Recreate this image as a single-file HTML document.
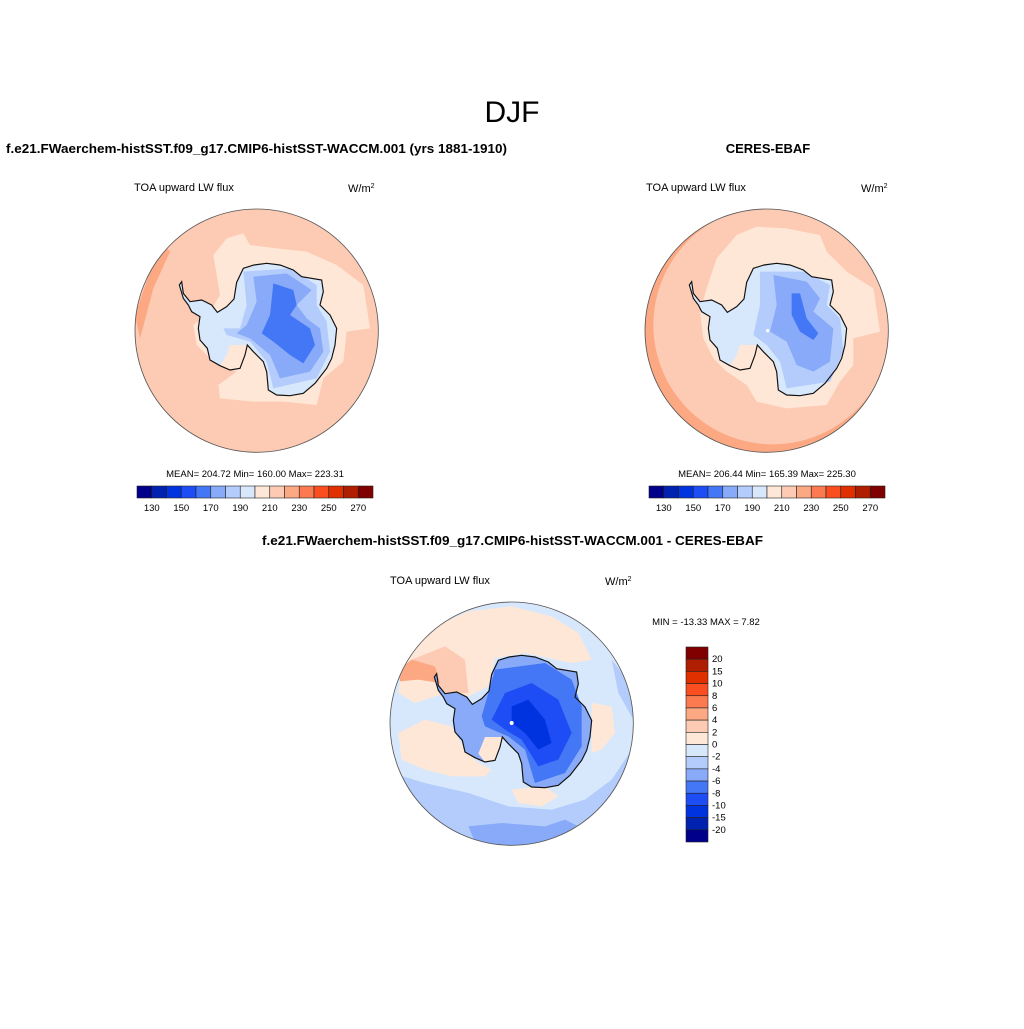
<!DOCTYPE html>
<html><head><meta charset="utf-8">
<style>
html,body{margin:0;padding:0;background:#fff;}
body{width:1024px;height:1024px;overflow:hidden;font-family:"Liberation Sans",Arial,sans-serif;}
svg text{font-family:"Liberation Sans",Arial,sans-serif;}
</style></head>
<body>
<svg id="fig" width="1024" height="1024" viewBox="0 0 1024 1024" xmlns="http://www.w3.org/2000/svg">
<defs>
<path id="coast" d="M340,190 L372,180 L410,175 L450,180 L490,195 L515,215 L575,225 L580,260 L570,300 L600,330 L620,370 L615,420 L605,460 L590,490 L555,535 L520,565 L480,572 L440,570 L415,555 L410,500 L400,470 L370,440 L352,420 L345,450 L330,490 L300,495 L270,482 L240,465 L232,430 L210,405 L205,370 L210,335 L185,320 L175,300 L160,280 L148,240 L155,230 L160,265 L180,290 L215,285 L245,300 L262,322 L290,305 L312,282 L320,232 Z"/>
<clipPath id="c1"><circle cx="380" cy="377" r="365"/></clipPath>
<clipPath id="c3"><circle cx="380" cy="392" r="365"/></clipPath>
</defs>

<text x="512" y="122" font-size="30" text-anchor="middle">DJF</text>
<text x="6" y="153" font-size="13" font-weight="bold" textLength="501" lengthAdjust="spacingAndGlyphs">f.e21.FWaerchem-histSST.f09_g17.CMIP6-histSST-WACCM.001 (yrs 1881-1910)</text>
<text x="768" y="153" font-size="13" font-weight="bold" text-anchor="middle">CERES-EBAF</text>
<text x="262" y="545" font-size="13" font-weight="bold" textLength="501" lengthAdjust="spacingAndGlyphs">f.e21.FWaerchem-histSST.f09_g17.CMIP6-histSST-WACCM.001 - CERES-EBAF</text>

<text x="134" y="191" font-size="11">TOA upward LW flux</text>
<text x="348" y="192" font-size="11">W/m<tspan font-size="7" dy="-4">2</tspan></text>
<text x="646" y="191" font-size="11">TOA upward LW flux</text>
<text x="861" y="192" font-size="11">W/m<tspan font-size="7" dy="-4">2</tspan></text>
<text x="390" y="584" font-size="11">TOA upward LW flux</text>
<text x="605" y="585" font-size="11">W/m<tspan font-size="7" dy="-4">2</tspan></text>

<!-- Map 1 -->
<g transform="translate(130,205) scale(0.33333)">
 <g clip-path="url(#c1)">
  <circle cx="380" cy="377" r="365" fill="#fdcab3"/>
  <path d="M15,330 L60,200 L100,120 L120,140 L70,250 L30,400 Z" fill="#fca883"/>
  <path d="M250,150 L290,100 L340,85 L360,120 L440,130 L530,140 L620,180 L700,240 L720,370 L650,380 L640,470 L580,520 L560,600 L460,590 L370,590 L270,580 L265,540 L320,500 L250,470 L200,420 L190,360 L240,320 L270,270 Z" fill="#fee7d6"/>
  <use href="#coast" fill="#d8e8fc"/>
  <path d="M300,420 L352,420 L345,450 L330,490 L300,495 L270,482 L290,450 Z" fill="#fee7d6"/>
  <path d="M340,200 L480,190 L560,240 L560,300 L590,350 L600,440 L560,520 L430,550 L410,470 L360,410 L290,390 L280,370 L330,370 L350,300 Z" fill="#b3ccfb"/>
  <path d="M370,215 L470,205 L545,255 L500,300 L530,340 L570,370 L580,440 L540,500 L450,520 L420,450 L360,400 L320,385 L350,360 L380,290 Z" fill="#88aaf8"/>
  <path d="M430,235 L490,255 L500,300 L480,330 L540,370 L555,420 L520,475 L480,450 L430,410 L395,385 L420,330 Z" fill="#4477f5"/>
  <use href="#coast" fill="none" stroke="#111" stroke-width="3.5"/>
 </g>
 <circle cx="380" cy="377" r="365" fill="none" stroke="#555" stroke-width="2.5"/>
</g>

<!-- Map 2 -->
<g transform="translate(640,205) scale(0.33333)">
 <g clip-path="url(#c1)">
  <circle cx="380" cy="377" r="365" fill="#fca883"/>
  <circle cx="398" cy="360" r="358" fill="#fdcab3"/>
  <path d="M230,160 L290,90 L350,65 L440,70 L540,90 L560,140 L620,200 L700,250 L720,380 L640,400 L640,480 L600,530 L560,600 L440,610 L350,590 L320,540 L260,500 L220,460 L190,400 L180,320 L200,250 Z" fill="#fee7d6"/>
  <path d="M330,170 L430,150 L520,180 L560,220 L600,300 L620,340 L630,440 L600,510 L520,560 L460,560 L400,540 L420,520 L500,490 L420,420 L360,420 L260,400 L240,300 L300,230 Z" fill="#fdcab3" opacity="0"/>
  <use href="#coast" fill="#d8e8fc"/>
  <path d="M300,420 L352,420 L345,450 L330,490 L300,495 L270,482 L290,450 Z" fill="#fee7d6"/>
  <path d="M360,200 L490,200 L570,240 L560,300 L600,340 L610,440 L570,530 L440,550 L420,470 L380,420 L340,390 L360,300 Z" fill="#b3ccfb"/>
  <path d="M400,210 L500,230 L540,280 L520,320 L580,370 L570,470 L520,500 L470,480 L440,410 L390,380 L410,300 Z" fill="#88aaf8"/>
  <path d="M455,265 L480,265 L500,340 L535,385 L520,405 L480,380 L455,330 Z" fill="#4477f5"/>
  <circle cx="383" cy="377" r="5" fill="#fff"/>
  <use href="#coast" fill="none" stroke="#111" stroke-width="3.5"/>
 </g>
 <circle cx="380" cy="377" r="365" fill="none" stroke="#555" stroke-width="2.5"/>
</g>

<!-- Map 3 -->
<g transform="translate(385,593) scale(0.33333)">
 <g clip-path="url(#c3)">
  <circle cx="380" cy="392" r="365" fill="#d8e8fc"/>
  <path d="M60,170 L150,100 L250,55 L380,40 L500,70 L580,120 L620,200 L560,210 L420,180 L330,195 L310,280 L250,310 L200,300 L150,310 L90,330 L40,300 Z" fill="#fee7d6"/>
  <path d="M40,420 L120,380 L200,400 L240,470 L280,510 L320,530 L300,550 L200,550 L120,530 L50,500 Z" fill="#fee7d6"/>
  <path d="M620,330 L680,340 L690,420 L650,470 L620,480 Z" fill="#fee7d6"/>
  <path d="M380,590 L480,580 L520,610 L470,640 L400,630 Z" fill="#fee7d6"/>
  <path d="M80,200 L180,160 L240,200 L250,300 L180,300 L140,250 L90,250 Z" fill="#fdcab3"/>
  <path d="M40,230 L80,200 L150,220 L165,270 L100,260 L45,265 Z" fill="#fca883"/>
  <path d="M20,540 L120,570 L250,600 L370,640 L500,650 L600,620 L680,560 L740,470 L745,380 L700,300 L680,200 L720,250 L770,400 L750,600 L600,770 L380,790 L150,720 L20,600 Z" fill="#b3ccfb"/>
  <path d="M250,700 L350,690 L480,700 L540,680 L620,720 L450,790 L280,770 Z" fill="#88aaf8"/>
  <g transform="translate(0,12)">
   <use href="#coast" fill="#88aaf8"/>
   <path d="M300,420 L352,420 L345,450 L330,490 L300,495 L280,470 Z" fill="#fee7d6"/>
  </g>
  <path d="M330,230 L480,210 L560,260 L590,340 L590,460 L540,540 L450,570 L420,470 L370,430 L300,400 L290,370 Z" fill="#4477f5"/>
  <path d="M360,300 L440,270 L520,320 L560,420 L520,500 L460,520 L410,440 L360,410 L320,380 Z" fill="#1f4df5"/>
  <path d="M380,340 L430,320 L480,380 L500,450 L460,470 L420,420 L380,390 Z" fill="#0033e0"/>
  <circle cx="380" cy="390" r="6" fill="#fff"/>
  <use href="#coast" transform="translate(0,12)" fill="none" stroke="#111" stroke-width="3.5"/>
 </g>
 <circle cx="380" cy="392" r="365" fill="none" stroke="#555" stroke-width="2.5"/>
</g>

<text x="255" y="477" font-size="9.5" text-anchor="middle">MEAN= 204.72  Min= 160.00  Max= 223.31</text>
<text x="767" y="477" font-size="9.5" text-anchor="middle">MEAN= 206.44  Min= 165.39  Max= 225.30</text>
<text x="706" y="625" font-size="9.5" text-anchor="middle">MIN = -13.33 MAX =   7.82</text>

<g id="cb1"></g><g id="cb2"></g><g id="cb3"></g>
</svg>
<script>
const absColors = ["#00008b","#0022b0","#0033e0","#1f4df5","#4477f5","#88aaf8","#b3ccfb","#d8e8fc","#fee7d6","#fdcab3","#fca883","#fb7a4f","#fa4e20","#e03000","#b01e00","#800000"];
const absTickLabels = ["130","150","170","190","210","230","250","270"];
const diffColors = ["#800000","#b01e00","#e03000","#fa4e20","#fb7a4f","#fca883","#fdcab3","#fee7d6","#d8e8fc","#b3ccfb","#88aaf8","#4477f5","#1f4df5","#0033e0","#0022b0","#00008b"];
const diffTickLabels = ["20","15","10","8","6","4","2","0","-2","-4","-6","-8","-10","-15","-20"];
const NS="http://www.w3.org/2000/svg";
function mk(tag,attrs,parent){const e=document.createElementNS(NS,tag);for(const k in attrs)e.setAttribute(k,attrs[k]);parent.appendChild(e);return e;}
function hbar(gid,x0,y0,w,h,name){
  const g=document.getElementById(gid);
  
  
  const bw=w/absColors.length;
  absColors.forEach((c,i)=>{
    const r=mk('rect',{x:x0+i*bw,y:y0,width:bw,height:h,fill:c,stroke:'#222','stroke-width':0.6},g);
    
    
  });
  absTickLabels.forEach((t,j)=>{
    const i=1+2*j;
    const tx=mk('text',{x:x0+i*bw,y:y0+h+13,'font-size':9.5,'text-anchor':'middle'},g);
    tx.textContent=t;
    
    
  });
}
hbar('cb1',137,486,236,12,'model-colorbar');
hbar('cb2',649,486,236,12,'obs-colorbar');
(function(){
  const g=document.getElementById('cb3');
  
  
  const x0=686,y0=647,w=22,H=195,bh=H/diffColors.length;
  diffColors.forEach((c,i)=>{
    const r=mk('rect',{x:x0,y:y0+i*bh,width:w,height:bh,fill:c,stroke:'#222','stroke-width':0.6},g);
    
    
  });
  diffTickLabels.forEach((t,i)=>{
    const tx=mk('text',{x:x0+w+4,y:y0+(i+1)*bh+3,'font-size':9.5},g);
    tx.textContent=t;
    
    
  });
})();
</script>
</body></html>
